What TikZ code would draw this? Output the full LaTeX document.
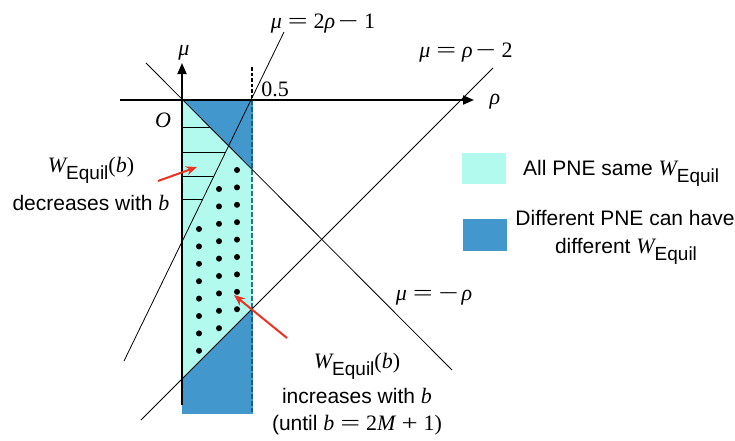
\documentclass[tikz,border=0pt]{standalone}
\usepackage{fontspec}
\usepackage{graphicx}
\setmainfont{Liberation Sans}
\newfontfamily\tms{Liberation Serif}
\usetikzlibrary{arrows.meta}
\newcommand\mv[1]{{\tms\itshape #1}}
\newcommand\mo[1]{{\tms #1}}
\newcommand\gapp{\hspace{6pt}}
\newcommand\eqq{{\tms\scalebox{1.6}[1]{=}}}
\newcommand\mns{{\tms\scalebox{1.6}[1]{−}}}
\newcommand\pls{{\tms\scalebox{1.3}[1]{+}}}
\newcommand\WE{{\fontsize{22}{25}\selectfont\mv{W}}\raisebox{-7pt}{\fontsize{19}{19}\selectfont Equil}}
\newcommand\Wb{\WE{\fontsize{22}{25}\selectfont\mo{(}\mv{b}\mo{)}}}
\definecolor{cyanfill}{RGB}{178,250,237}
\definecolor{bluefill}{RGB}{66,152,204}
\definecolor{redarrow}{RGB}{234,51,35}
\definecolor{dashcol}{RGB}{20,80,120}
\tikzset{
  txt/.style={anchor=base, inner sep=0pt, font=\fontsize{21}{25}\selectfont},
  mth/.style={anchor=base, inner sep=0pt, font=\fontsize{22}{26}\selectfont\tms},
  thinline/.style={line width=0.8pt, black},
  axisline/.style={line width=1.8pt, black, -{Triangle[length=11pt,width=9pt]}},
  hatchline/.style={line width=0.8pt, black},
  dotmark/.style={black},
  redarr/.style={redarrow, line width=2pt, -{Stealth[length=11pt,width=9pt]}},
}
\begin{document}
\begin{tikzpicture}[x=1pt,y=-1pt]
\useasboundingbox (0,0) rectangle (735,440);
% regions
\fill[bluefill] (182,100) rectangle (253,414);
\fill[cyanfill] (182,100) -- (253,170) -- (253,308) -- (182,379) -- cycle;
% hatch lines
\draw[hatchline] (182,127) -- (210,127);
\draw[hatchline] (182,152) -- (225,152);
\draw[hatchline] (182,176) -- (214,176);
\draw[hatchline] (182,199) -- (202,199);
% dots
\foreach \k in {0,...,7} \fill[dotmark] (199,229+17.4*\k) circle (3pt);
\foreach \k in {0,...,8} \fill[dotmark] (219,189+17.4*\k) circle (3pt);
\foreach \k in {0,...,8} \fill[dotmark] (237,170+17.4*\k) circle (3pt);
% dashed verticals
\draw[black, line width=1.3pt, dash pattern=on 3.5pt off 2pt] (252,67) -- (252,100);
\draw[dashcol, draw opacity=0.8, line width=2pt, dash pattern=on 4.5pt off 2.5pt] (252,100) -- (252,412);
% named coordinates
\coordinate (A1) at (146,63);   \coordinate (A2) at (452,370);
\coordinate (B1) at (124,361);  \coordinate (B2) at (284,32);
\coordinate (C1) at (141,420);  \coordinate (C2) at (493,68);
\coordinate (xs) at (120,100);  \coordinate (xe) at (474,100);
\coordinate (ys) at (182,405);  \coordinate (ye) at (182,63);
% lines
\draw[thinline] (A1) -- (A2);
\draw[thinline] (B1) -- (B2);
\draw[thinline] (C1) -- (C2);
% axes
\draw[axisline] (xs) -- (xe);
\draw[axisline] (ys) -- (ye);
% axis labels
\node[mth] (mulab) at (184,55) {\mv{μ}};
\node[mth] (rholab) at (495,104) {\mv{ρ}};
\node[mth] (olab) at (163,127) {\mv{O}};
\node[mth] (half) at (275,96) {0.5};
\node[mth] (l1) at (323,28) {\mv{μ}\gapp\eqq\gapp2\mv{ρ}\hspace{3pt}\mns\gapp1};
\node[mth] (l2) at (466,57) {\mv{μ}\gapp\eqq\gapp\mv{ρ}\hspace{3pt}\mns\gapp2};
\node[mth] (l3) at (434,300) {\mv{μ}\gapp\eqq\gapp\mns\hspace{3pt}\mv{ρ}};
% annotation labels
\node[txt] (dec1) at (91,172) {\Wb};
\node[txt] (dec2) at (91,210) {decreases with {\fontsize{22}{25}\selectfont\mv{b}}};
\node[txt] (inc1) at (357,368) {\Wb};
\node[txt] (inc2) at (357,403) {increases with {\fontsize{22}{25}\selectfont\mv{b}}};
\node[txt] (inc3) at (357,430) {(until {\fontsize{22}{25}\selectfont\mv{b}\gapp\eqq\gapp\mo{2}\mv{M}\gapp\pls\gapp\mo{1}\mo{)}}};
% red arrows
\coordinate (r1t) at (158,181); \coordinate (r1h) at (197,167);
\coordinate (r2t) at (287,338); \coordinate (r2h) at (234,295);
\draw[redarr] (r1t) -- (r1h);
\draw[redarr] (r2t) -- (r2h);
% legend
\node[fill=cyanfill, minimum width=44pt, minimum height=31pt, inner sep=0pt, anchor=north west] (lg1) at (462,153) {};
\node[fill=bluefill, minimum width=44pt, minimum height=32pt, inner sep=0pt, anchor=north west] (lg2) at (463,219) {};
\node[txt, anchor=base west] (lt1) at (523,175) {All PNE same \WE};
\node[txt] (lt2) at (625,225) {Different PNE can have};
\node[txt] (lt3) at (626,253) {different \WE};
\end{tikzpicture}
\end{document}
